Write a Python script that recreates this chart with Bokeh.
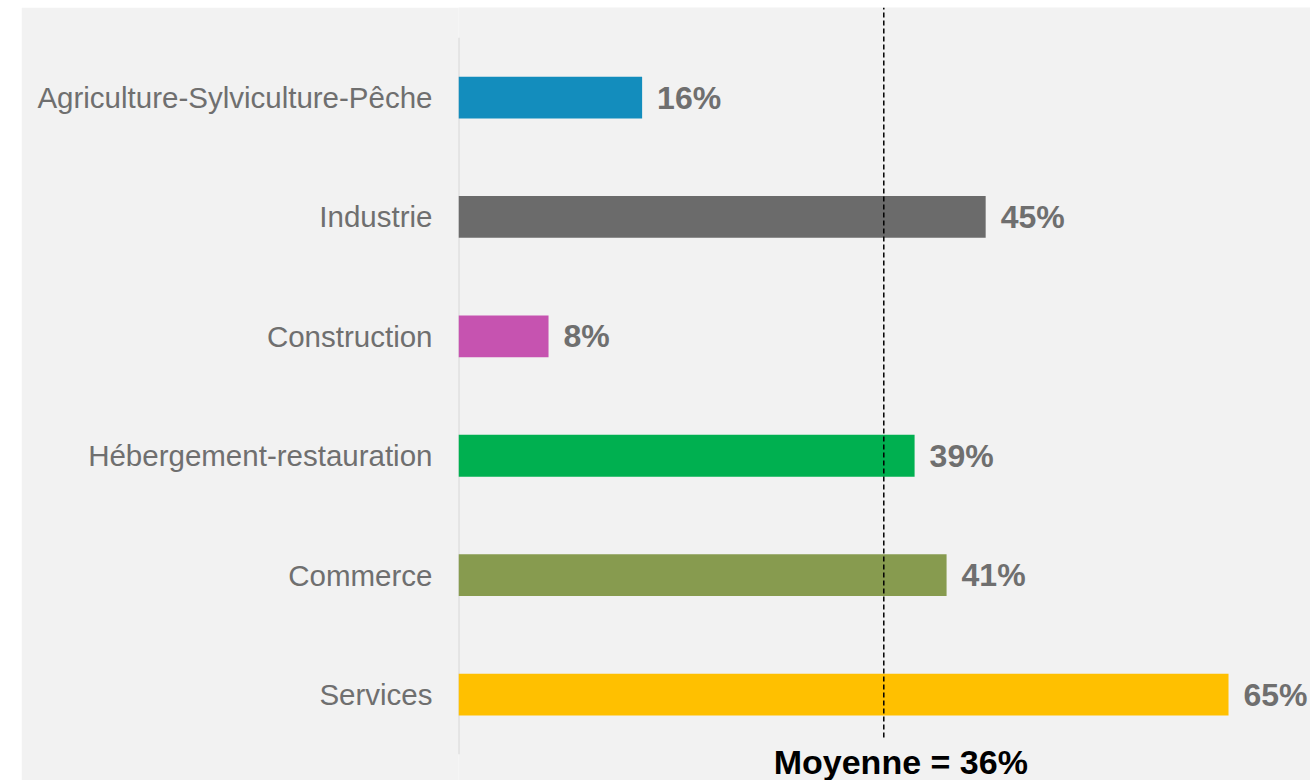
from bokeh.plotting import figure
from bokeh.models import FixedTicker, Label, Spacer, ColumnDataSource, Range1d
from bokeh.layouts import row, column
from bokeh.core.properties import value
from bokeh.embed import file_html
from bokeh.resources import INLINE

categories = ["Agriculture-Sylviculture-Pêche", "Industrie", "Construction",
              "Hébergement-restauration", "Commerce", "Services"]
values = [15.5, 44.5, 7.6, 38.5, 41.2, 65.0]
value_labels = ["16%", "45%", "8%", "39%", "41%", "65%"]
colors = ["#138dbd", "#6b6b6b", "#c653b0", "#00b050", "#879b4f", "#ffc000"]
mean_value = 35.9
mean_label = "Moyenne = 36%"

n = len(categories)
ypos = [n - 1 - i for i in range(n)]

src = ColumnDataSource(dict(y=ypos, v=values, lab=value_labels, c=colors))

BG = "#f2f2f2"
FONT = "Liberation Sans"

p = figure(width=1289, height=773, output_backend="svg", toolbar_location=None,
           x_range=Range1d(0, 71.92), y_range=Range1d(-0.72, 5.754),
           min_border_left=437, min_border_right=0, min_border_top=0, min_border_bottom=0,
           background_fill_color=BG, border_fill_color=BG, outline_line_color=None)

p.xaxis.visible = False
p.xgrid.visible = False
p.ygrid.visible = False

p.yaxis.ticker = FixedTicker(ticks=ypos)
p.yaxis.major_label_overrides = {yy: c for yy, c in zip(ypos, categories)}
p.yaxis.axis_line_color = None
p.yaxis.major_tick_line_color = None
p.yaxis.minor_tick_line_color = None
p.yaxis.major_tick_out = 0
p.yaxis.major_tick_in = 0
p.yaxis.major_label_standoff = 26
p.yaxis.major_label_text_font = FONT
p.yaxis.major_label_text_font_size = "29.5px"
p.yaxis.major_label_text_color = "#6f6f6f"

# axis line
p.segment(x0=[0], y0=[-0.5], x1=[0], y1=[n - 0.5], line_color="#d6d6d6", line_width=2)

p.hbar(y="y", right="v", left=0, height=0.35, fill_color="c", line_color=None, source=src)

p.text(x="v", y="y", text="lab", source=src, x_offset=15,
       text_baseline="middle", text_align="left",
       text_font=value(FONT), text_font_style="bold",
       text_font_size="32px", text_color="#6f6f6f")

# mean line
p.segment(x0=[mean_value], y0=[-0.36], x1=[mean_value], y1=[5.754],
          line_color="black", line_width=1.5, line_dash="5 3")

p.add_layout(Label(x=mean_value, y=-0.561, text=mean_label, x_offset=17,
                   text_align="center", text_baseline="alphabetic",
                   text_font=FONT, text_font_style="bold",
                   text_font_size="34px", text_color="black"))

layout = column(Spacer(width=1310, height=7),
                row(Spacer(width=21, height=773), p))

open("out.html", "w").write(file_html(layout, INLINE))
